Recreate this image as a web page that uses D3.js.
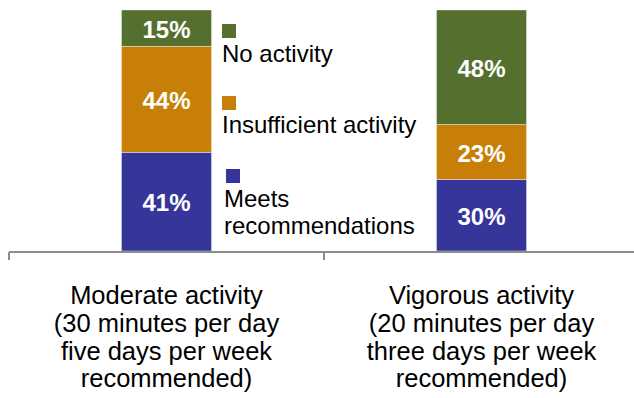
<!DOCTYPE html>
<html>
<head>
<meta charset="utf-8">
<script src="https://cdn.jsdelivr.net/npm/d3@7"></script>
<style>
  html, body { margin: 0; padding: 0; background: #fff; }
  svg { display: block; font-family: "Liberation Sans", Arial, sans-serif; }
</style>
</head>
<body>
<svg id="chart" width="634" height="398"></svg>
<script>
// Share of adults by physical activity level, for two recommendation types
const categories = ["Moderate", "Vigorous"];
const categoryLabels = [
  ["Moderate activity", "(30 minutes per day", "five days per week", "recommended)"],
  ["Vigorous activity", "(20 minutes per day", "three days per week", "recommended)"]
];
const seriesKeys = ["meets", "insufficient", "none"];
const seriesNames = ["Meets recommendations", "Insufficient activity", "No activity"];
const meetsValues = [41, 30];
const insufficientValues = [44, 23];
const noneValues = [15, 48];
const colors = ["#35359a", "#c77f08", "#556f2e"];

const rows = categories.map((c, i) => ({
  category: c,
  meets: meetsValues[i],
  insufficient: insufficientValues[i],
  none: noneValues[i]
}));

const svg = d3.select("#chart");

const x = d3.scaleBand().domain(categories).range([9, 639]).padding(0);
const y = d3.scaleLinear().domain([0, 1]).range([251, 10]);
const color = d3.scaleOrdinal().domain(seriesKeys).range(colors);

// 100% stacked layout
const stacked = d3.stack().keys(seriesKeys).offset(d3.stackOffsetExpand)(rows);

const barW = x.bandwidth() * 0.286;

const layers = svg.append("g").selectAll("g")
  .data(stacked)
  .join("g")
  .attr("fill", d => color(d.key));

layers.selectAll("rect")
  .data(d => d.map(p => ({ p, key: d.key })))
  .join("rect")
  .attr("x", d => x(d.p.data.category) + (x.bandwidth() - barW) / 2)
  .attr("width", barW)
  .attr("y", d => y(d.p[1]))
  .attr("height", d => y(d.p[0]) - y(d.p[1]))
  .attr("stroke", "#ffffff")
  .attr("stroke-width", 0.4);

// value labels in the middle of each segment
layers.selectAll("text")
  .data(d => d.map(p => ({ p, key: d.key })))
  .join("text")
  .attr("x", d => x(d.p.data.category) + x.bandwidth() / 2)
  .attr("y", d => (y(d.p[0]) + y(d.p[1])) / 2)
  .attr("dy", "0.4em")
  .attr("text-anchor", "middle")
  .attr("fill", "#ffffff")
  .attr("font-weight", "bold")
  .attr("font-size", 24)
  .text(d => d.p.data[d.key] + "%");

// category axis with ticks between the groups
const axis = svg.append("g").attr("stroke", "#8c8c8c").attr("stroke-width", 2);
axis.append("line")
  .attr("x1", x.range()[0]).attr("x2", x.range()[1])
  .attr("y1", 252).attr("y2", 252);
const boundaries = categories.map(c => x(c)).concat([x.range()[1]]);
axis.selectAll("line.tick")
  .data(boundaries)
  .join("line")
  .attr("class", "tick")
  .attr("x1", d => d).attr("x2", d => d)
  .attr("y1", 252).attr("y2", 260);

const catText = svg.append("g").selectAll("text")
  .data(categories)
  .join("text")
  .attr("text-anchor", "middle")
  .attr("font-size", 25.5)
  .attr("fill", "#000");
catText.selectAll("tspan")
  .data((d, i) => categoryLabels[i])
  .join("tspan")
  .attr("x", function () { return x(d3.select(this.parentNode).datum()) + x.bandwidth() / 2; })
  .attr("y", (d, i) => 304 + i * 27.8)
  .text(d => d);

// legend: swatch above wrapped text
const legendItems = [
  { key: "none", sx: 222, sy: 24, lines: ["No activity"], tx: 222, ty: 62 },
  { key: "insufficient", sx: 222, sy: 96, lines: ["Insufficient activity"], tx: 222, ty: 133 },
  { key: "meets", sx: 226, sy: 169, lines: ["Meets", "recommendations"], tx: 224, ty: 207 }
];
const legend = svg.append("g").selectAll("g").data(legendItems).join("g");
legend.append("rect")
  .attr("x", d => d.sx).attr("y", d => d.sy)
  .attr("width", 14).attr("height", 14)
  .attr("fill", d => color(d.key));
legend.append("text")
  .attr("font-size", 24)
  .attr("fill", "#000")
  .selectAll("tspan")
  .data(d => d.lines.map((t, i) => ({ t, i, d })))
  .join("tspan")
  .attr("x", e => e.d.tx)
  .attr("y", e => e.d.ty + e.i * 26.5)
  .text(e => e.t);
</script>
</body>
</html>
